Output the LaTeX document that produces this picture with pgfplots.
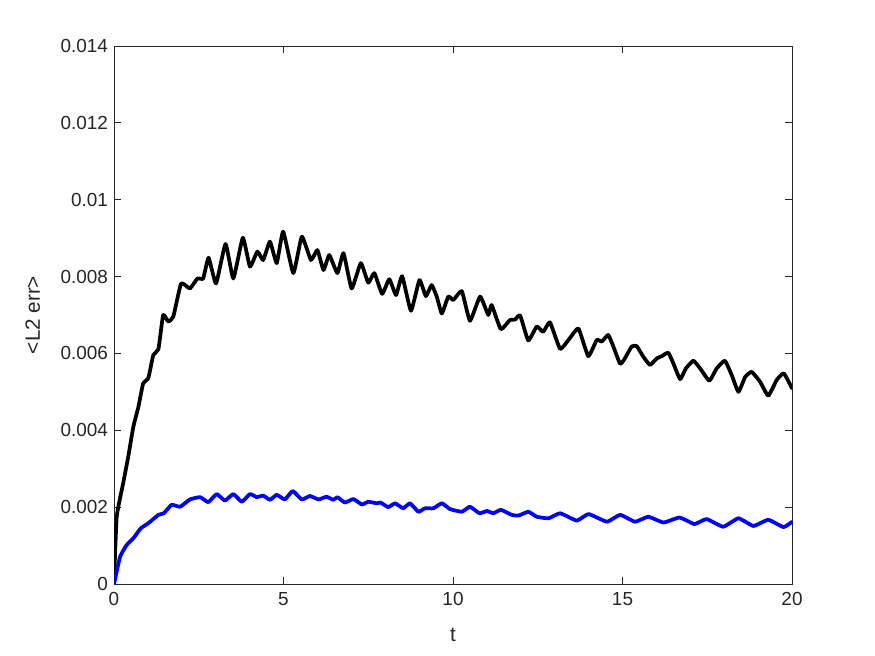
\documentclass[border=0pt]{standalone}
\usepackage{pgfplots}
\pgfplotsset{compat=1.18}
\usepackage{fontspec}
\setmainfont{Liberation Sans}
\definecolor{axgray}{rgb}{0.15,0.15,0.15}
\begin{document}
\begin{tikzpicture}
\path[fill=white] (0,0) rectangle (656.25pt,492pt);
\begin{axis}[
  at={(85.5pt,54pt)}, anchor=south west,
  scale only axis, width=508.5pt, height=403.5pt,
  xmin=0, xmax=20, ymin=0, ymax=0.014,
  xtick={0,5,10,15,20},
  ytick={0,0.002,0.004,0.006,0.008,0.01,0.012,0.014},
  scaled y ticks=false,
  /pgf/number format/assume math mode=true,
  xticklabel style={yshift=-3pt},
  yticklabel style={xshift=-1pt, /pgf/number format/.cd, fixed, precision=3},
  tick align=inside,
  major tick length=5pt,
  axis line style={axgray, line width=0.6pt},
  tick style={axgray, line width=0.6pt},
  ticklabel style={font=\fontsize{14.2}{16}\selectfont, text=axgray},
  label style={font=\fontsize{15.5}{18}\selectfont, text=axgray},
  xlabel={t}, ylabel={<L2 err>},
  xlabel style={at={(axis description cs:0.5,-0.094)}, anchor=center},
  ylabel style={at={(axis description cs:-0.12,0.5)}, anchor=center},
  every axis plot/.append style={line width=2.8pt, line join=round, line cap=round, smooth, tension=0.25},
]
\addplot[black] coordinates {
(0,0) (0.08,0.00175) (0.27,0.00262) (0.42,0.00331) (0.57,0.00409) (0.72,0.00461)
(0.86,0.00522) (1.01,0.00535) (1.16,0.00596) (1.31,0.00611) (1.45,0.00700) (1.60,0.00683)
(1.75,0.00696) (1.98,0.00782) (2.24,0.00769) (2.46,0.00795) (2.63,0.00795) (2.79,0.00849)
(3.01,0.00782) (3.29,0.00885) (3.52,0.00795) (3.80,0.00901) (4.01,0.00826) (4.23,0.00865)
(4.40,0.00843) (4.60,0.00891) (4.80,0.00835) (4.99,0.00917) (5.29,0.00809) (5.54,0.00904)
(5.81,0.00843) (6.00,0.00869) (6.18,0.00817) (6.35,0.00856) (6.59,0.00809) (6.77,0.00861)
(7.01,0.00769) (7.28,0.00835) (7.50,0.00784) (7.68,0.00809) (7.91,0.00755) (8.12,0.00793)
(8.32,0.00752) (8.50,0.00801) (8.76,0.00711) (9.01,0.00791) (9.20,0.00749)
(9.37,0.00778) (9.52,0.00748) (9.67,0.00704) (9.86,0.00748) (10.01,0.00739) (10.26,0.00762)
(10.50,0.00685) (10.80,0.00748) (11.04,0.00700) (11.14,0.00726) (11.41,0.00663) (11.68,0.00687)
(11.83,0.00688) (11.98,0.00699) (12.22,0.00634) (12.47,0.00670) (12.66,0.00656) (12.86,0.00681)
(13.16,0.00612) (13.45,0.00640) (13.70,0.00665) (13.99,0.00593) (14.24,0.00635) (14.39,0.00631)
(14.58,0.00648) (14.73,0.00618) (14.93,0.00573) (15.07,0.00587) (15.27,0.00618) (15.42,0.00619)
(15.61,0.00592) (15.81,0.00570) (16.01,0.00587) (16.16,0.00593) (16.35,0.00602) (16.50,0.00574)
(16.70,0.00533) (16.87,0.00561) (17.09,0.00581) (17.29,0.00561) (17.56,0.00529) (17.78,0.00561)
(18.02,0.00581) (18.22,0.00544) (18.42,0.00500) (18.62,0.00539) (18.81,0.00552) (19.06,0.00526)
(19.30,0.00490) (19.55,0.00531) (19.76,0.00548) (20.0,0.00509)
};
\addplot[blue] coordinates {
(0,0) (0.18,0.00071) (0.37,0.00101) (0.57,0.00119) (0.79,0.00145) (1.01,0.00158)
(1.31,0.00180) (1.47,0.00184) (1.70,0.00206) (1.95,0.00201) (2.24,0.00220) (2.54,0.00226)
(2.78,0.00213) (3.03,0.00234) (3.27,0.00217) (3.52,0.00234) (3.77,0.00214) (4.01,0.00234)
(4.21,0.00226) (4.40,0.00230) (4.60,0.00219) (4.80,0.00232) (5.04,0.00220) (5.27,0.00242)
(5.54,0.00220) (5.78,0.00229) (6.03,0.00220) (6.27,0.00227) (6.47,0.00219) (6.59,0.00226)
(6.81,0.00212) (7.06,0.00221) (7.31,0.00207) (7.50,0.00214) (7.75,0.00210) (7.86,0.00212)
(8.09,0.00200) (8.29,0.00210) (8.53,0.00197) (8.73,0.00210) (8.98,0.00188) (9.17,0.00197)
(9.42,0.00197) (9.67,0.00210) (9.91,0.00195) (10.26,0.00188) (10.50,0.00201) (10.78,0.00184)
(11.00,0.00190) (11.19,0.00184) (11.41,0.00193) (11.73,0.00180) (11.93,0.00178) (12.22,0.00188)
(12.47,0.00175) (12.82,0.00171) (13.16,0.00184) (13.65,0.00165) (14.00,0.00182) (14.54,0.00162)
(14.93,0.00180) (15.37,0.00162) (15.76,0.00175) (16.21,0.00160) (16.68,0.00173) (17.12,0.00156)
(17.48,0.00169) (17.97,0.00149) (18.42,0.00171) (18.86,0.00151) (19.30,0.00167) (19.75,0.00148)
(20.0,0.00162)
};
\end{axis}
\end{tikzpicture}
\end{document}
